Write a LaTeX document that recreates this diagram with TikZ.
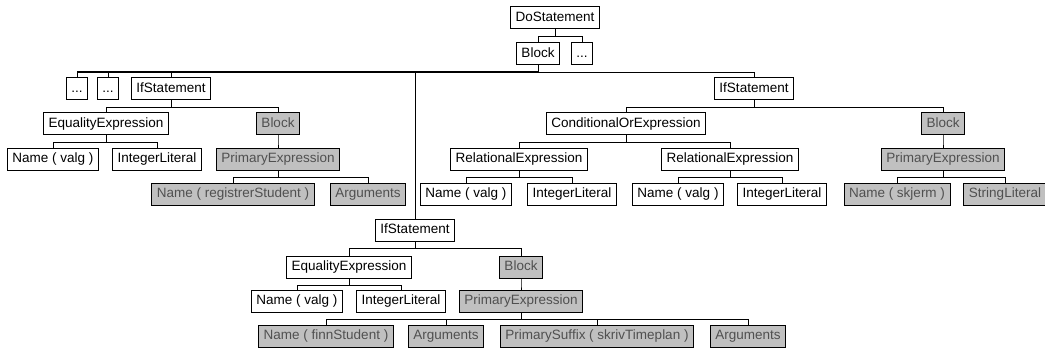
\documentclass[tikz,border=0pt]{standalone}
\usepackage{fontspec}
\setmainfont{Liberation Sans}
\definecolor{boxgray}{HTML}{C0C0C0}
\definecolor{textgray}{HTML}{505050}
\tikzset{
  astnode/.style={draw=black, line width=1pt, fill=white, rectangle,
    minimum height=22pt, inner xsep=5pt, inner ysep=0pt,
    text height=9.6pt, text depth=2.8pt,
    font=\fontsize{13.5}{16}\selectfont},
  hot/.style={astnode, fill=boxgray, text=textgray},
  link/.style={draw=black, line width=1pt}
}
% parent-to-child connector: down, across, down
\newcommand{\treeedge}[2]{\draw[link] (#1.south) -- ++(0,6.6) -| (#2.north);}
\begin{document}
\begin{tikzpicture}[x=1pt,y=-1pt]
\useasboundingbox (0,0) rectangle (1045,350);

% row 0-1
\node[astnode] (do)   at (555,18) {DoStatement};
\node[astnode] (blk)  at (538,54) {Block};
\node[astnode] (dots) at (582,54) {...};

% row 2
\node[astnode] (d1)  at (77,89)  {...};
\node[astnode] (d2)  at (108,89) {...};
\node[astnode] (ifL) at (171,89) {IfStatement};
\node[astnode] (ifR) at (754,89) {IfStatement};

% row 3
\node[astnode] (eqL)  at (106,124) {EqualityExpression};
\node[hot]     (blkL) at (278,124) {Block};
\node[astnode] (cor)  at (626,124) {ConditionalOrExpression};
\node[hot]     (blkR) at (943,124) {Block};

% row 4
\node[astnode] (nvL)  at (53,159.5)  {Name ( valg )};
\node[astnode] (ilL)  at (157,159.5) {IntegerLiteral};
\node[hot]     (peL)  at (278,159.5) {PrimaryExpression};
\node[astnode] (relA) at (519,159.5) {RelationalExpression};
\node[astnode] (relB) at (730,159.5) {RelationalExpression};
\node[hot]     (peR)  at (943,159.5) {PrimaryExpression};

% row 5
\node[hot]     (nrs)  at (233,194.5) {Name ( registrerStudent )};
\node[hot]     (argL) at (368,194.5) {Arguments};
\node[astnode] (nvA)  at (466,194.5) {Name ( valg )};
\node[astnode] (ilA)  at (572,194.5) {IntegerLiteral};
\node[astnode] (nvB)  at (678,194.5) {Name ( valg )};
\node[astnode] (ilB)  at (782,194.5) {IntegerLiteral};
\node[hot]     (nsk)  at (897,194.5) {Name ( skjerm )};
\node[hot]     (strl) at (1005,194.5) {StringLiteral};

% middle branch
\node[astnode] (ifM)  at (415,230.5) {IfStatement};
\node[astnode] (eqM)  at (349,267) {EqualityExpression};
\node[hot]     (blkM) at (521,267) {Block};
\node[astnode] (nvM)  at (297,301) {Name ( valg )};
\node[astnode] (ilM)  at (401,301) {IntegerLiteral};
\node[hot]     (peM)  at (521,301) {PrimaryExpression};
\node[hot]     (nfs)  at (326,336) {Name ( finnStudent )};
\node[hot]     (arg1) at (446,336) {Arguments};
\node[hot]     (psuf) at (597,336) {PrimarySuffix ( skrivTimeplan )};
\node[hot]     (arg2) at (748,336) {Arguments};

% connectors
\treeedge{do}{blk}  \treeedge{do}{dots}
\treeedge{blk}{d1}  \treeedge{blk}{d2}  \treeedge{blk}{ifL}
\treeedge{blk}{ifM} \treeedge{blk}{ifR}
% the shared run of the Block bus toward the left children is heavier
\path (blk.south) ++(0,6.6) coordinate (bus);
\draw[link, line width=1.8pt] (bus) -- (bus -| d1.north);
\treeedge{ifL}{eqL} \treeedge{ifL}{blkL}
\treeedge{eqL}{nvL} \treeedge{eqL}{ilL}
\treeedge{blkL}{peL}
\treeedge{peL}{nrs} \treeedge{peL}{argL}
\treeedge{ifR}{cor} \treeedge{ifR}{blkR}
\treeedge{cor}{relA} \treeedge{cor}{relB}
\treeedge{relA}{nvA} \treeedge{relA}{ilA}
\treeedge{relB}{nvB} \treeedge{relB}{ilB}
\treeedge{blkR}{peR}
\treeedge{peR}{nsk} \treeedge{peR}{strl}
\treeedge{ifM}{eqM} \treeedge{ifM}{blkM}
\treeedge{eqM}{nvM} \treeedge{eqM}{ilM}
\treeedge{blkM}{peM}
\treeedge{peM}{nfs} \treeedge{peM}{arg1} \treeedge{peM}{psuf} \treeedge{peM}{arg2}
\end{tikzpicture}
\end{document}
